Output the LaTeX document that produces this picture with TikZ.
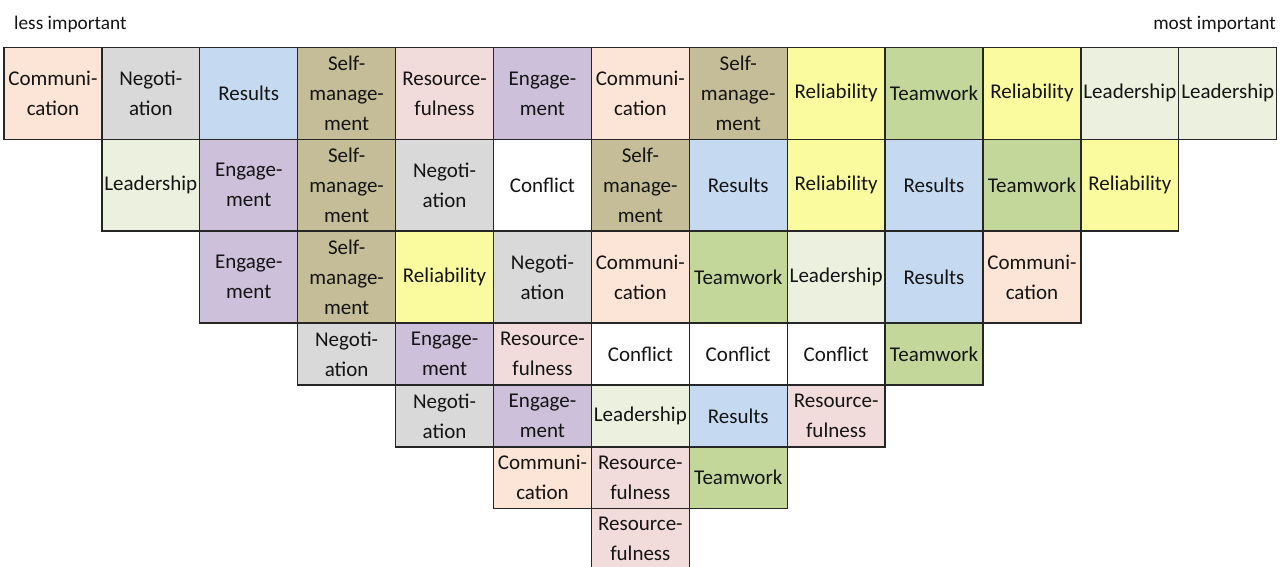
\documentclass[tikz,border=0pt]{standalone}
\usepackage{fontspec}
\setmainfont{Carlito}
\definecolor{comm}{HTML}{FCE4D6}
\definecolor{nego}{HTML}{D9D9D9}
\definecolor{resu}{HTML}{C5D9F1}
\definecolor{selfm}{HTML}{C4BD97}
\definecolor{resf}{HTML}{F2DCDB}
\definecolor{enga}{HTML}{CCC0DA}
\definecolor{reli}{HTML}{FAFA9E}
\definecolor{team}{HTML}{C4D79B}
\definecolor{lead}{HTML}{EBF1DE}
\definecolor{conf}{HTML}{FFFFFF}
\begin{document}
\begin{tikzpicture}[x=1pt,y=-1pt]
\useasboundingbox (0,0) rectangle (1288,567);
\tikzset{
  cell/.style={draw=black!85, line width=1.3pt, inner sep=0pt, align=center,
    minimum width=97.9pt, text=black!92,
    font=\fontsize{21}{30}\selectfont},
  tall/.style={cell, minimum height=91.7pt},
  short/.style={cell, minimum height=62pt},
  caption/.style={inner sep=0pt, text=black!92, font=\fontsize{19.3}{23}\selectfont}
}
% axis captions
\node[caption, anchor=base west] (less) at (14,30) {less important};
\node[caption, anchor=base east] (most) at (1276,30) {most important};
% row 0
\foreach \c/\s/\t in {
  0/comm/{Communi-\\cation}, 1/nego/{Negoti-\\ation}, 2/resu/{Results},
  3/selfm/{Self-\\manage-\\ment}, 4/resf/{Resource-\\fulness}, 5/enga/{Engage-\\ment},
  6/comm/{Communi-\\cation}, 7/selfm/{Self-\\manage-\\ment}, 8/reli/{Reliability},
  9/team/{Teamwork}, 10/reli/{Reliability}, 11/lead/{Leadership}, 12/lead/{Leadership}}
  \node[tall, fill=\s] (r0c\c) at ({52.95+97.9*\c}, 93.4) {\t};
% row 1
\foreach \c/\s/\t in {
  1/lead/{Leadership}, 2/enga/{Engage-\\ment}, 3/selfm/{Self-\\manage-\\ment},
  4/nego/{Negoti-\\ation}, 5/conf/{Conflict}, 6/selfm/{Self-\\manage-\\ment},
  7/resu/{Results}, 8/reli/{Reliability}, 9/resu/{Results}, 10/team/{Teamwork},
  11/reli/{Reliability}}
  \node[tall, fill=\s] (r1c\c) at ({52.95+97.9*\c}, 185.2) {\t};
% row 2
\foreach \c/\s/\t in {
  2/enga/{Engage-\\ment}, 3/selfm/{Self-\\manage-\\ment}, 4/reli/{Reliability},
  5/nego/{Negoti-\\ation}, 6/comm/{Communi-\\cation}, 7/team/{Teamwork},
  8/lead/{Leadership}, 9/resu/{Results}, 10/comm/{Communi-\\cation}}
  \node[tall, fill=\s] (r2c\c) at ({52.95+97.9*\c}, 277) {\t};
% row 3
\foreach \c/\s/\t in {
  3/nego/{Negoti-\\ation}, 4/enga/{Engage-\\ment}, 5/resf/{Resource-\\fulness},
  6/conf/{Conflict}, 7/conf/{Conflict}, 8/conf/{Conflict}, 9/team/{Teamwork}}
  \node[short, fill=\s] (r3c\c) at ({52.95+97.9*\c}, 354) {\t};
% row 4
\foreach \c/\s/\t in {
  4/nego/{Negoti-\\ation}, 5/enga/{Engage-\\ment}, 6/lead/{Leadership},
  7/resu/{Results}, 8/resf/{Resource-\\fulness}}
  \node[short, fill=\s] (r4c\c) at ({52.95+97.9*\c}, 416) {\t};
% row 5
\foreach \c/\s/\t in {
  5/comm/{Communi-\\cation}, 6/resf/{Resource-\\fulness}, 7/team/{Teamwork}}
  \node[short, fill=\s, minimum height=61.5pt] (r5c\c) at ({52.95+97.9*\c}, 477.75) {\t};
% row 6
\node[short, fill=resf, minimum height=61.5pt] (r6c6) at ({52.95+97.9*6}, 539.25) {Resource-\\fulness};
\end{tikzpicture}
\end{document}
